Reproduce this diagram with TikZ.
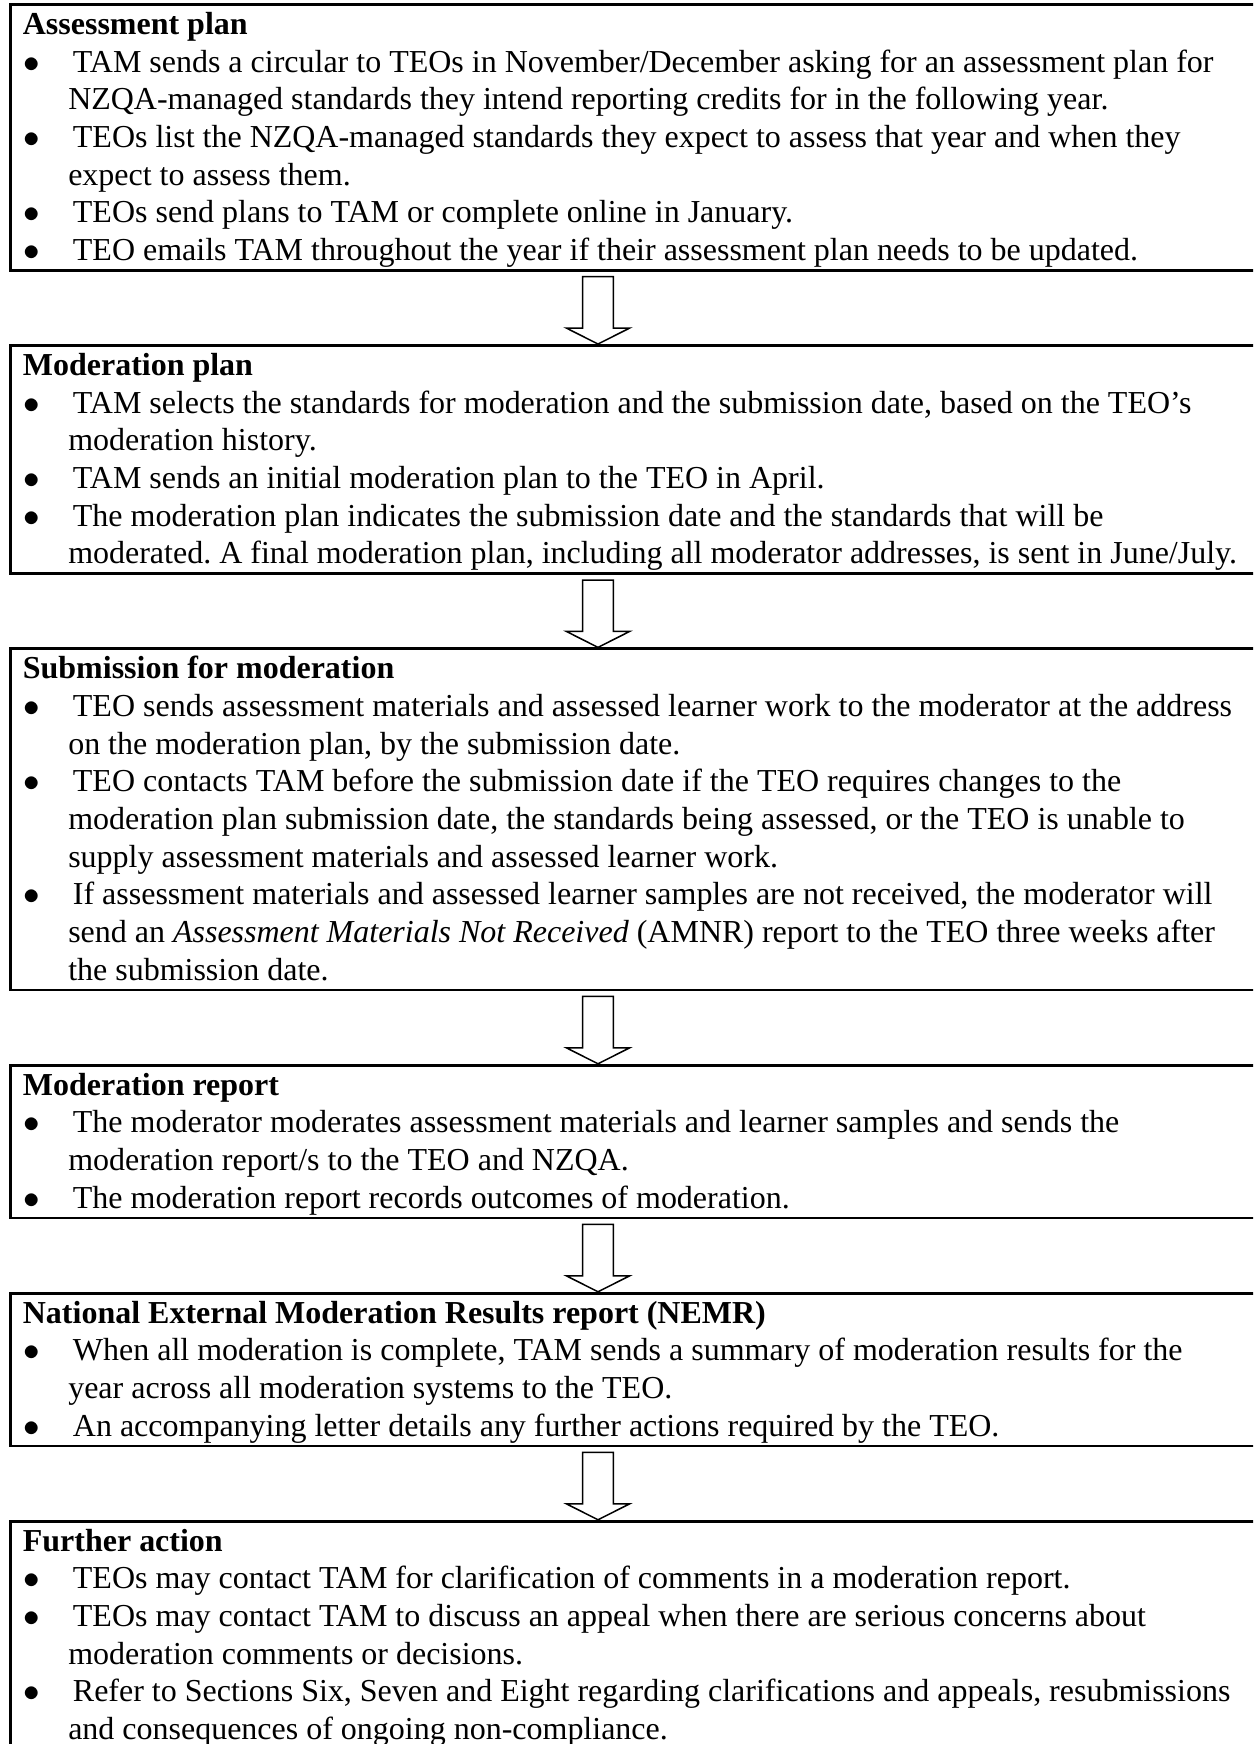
\documentclass[tikz,border=0pt]{standalone}
\usepackage{fontspec}
\setmainfont{Liberation Serif}
\usetikzlibrary{calc}
\usetikzlibrary{positioning}

% line helpers for the stage boxes
\newcommand{\headln}[1]{\rule{0pt}{10.9pt}\textbf{#1}}
\newcommand{\firstln}[1]{\hspace*{0.4pt}\makebox[17.8pt][l]{$\bullet$}#1}
\newcommand{\contln}[1]{\hspace*{16.5pt}#1}
\newcommand{\lastln}{\rule[-3.6pt]{0pt}{3.6pt}}

\tikzset{
  stagebox/.style={draw, line width=1pt, inner xsep=4.55pt, inner ysep=0pt,
    anchor=north west, font=\fontsize{11.63pt}{13.7pt}\selectfont\frenchspacing},
  flowarrow/.style={draw, line width=0.55pt, fill=white}
}

\begin{document}
\begin{tikzpicture}[x=0.3636pt,y=-0.3636pt]
  % Page
  \clip (0,0) rectangle (1253,1744);

  % Stages
  \node[stagebox] (assess) at (9,3) {\parbox[t]{470pt}{%
    \headln{Assessment plan}\\
    \firstln{TAM sends a circular to TEOs in November/December asking for an assessment plan for}\\
    \contln{NZQA-managed standards they intend reporting credits for in the following year.}\\
    \firstln{TEOs list the NZQA-managed standards they expect to assess that year and when they}\\
    \contln{expect to assess them.}\\
    \firstln{TEOs send plans to TAM or complete online in January.}\\
    \firstln{TEO emails TAM throughout the year if their assessment plan needs to be updated.}\lastln}};

  \node[stagebox, below=26.3pt of assess.south west, anchor=north west] (modplan) {\parbox[t]{470pt}{%
    \headln{Moderation plan}\\
    \firstln{TAM selects the standards for moderation and the submission date, based on the TEO’s}\\
    \contln{moderation history.}\\
    \firstln{TAM sends an initial moderation plan to the TEO in April.}\\
    \firstln{The moderation plan indicates the submission date and the standards that will be}\\
    \contln{moderated. A final moderation plan, including all moderator addresses, is sent in June/July.}\lastln}};

  \node[stagebox, below=26.3pt of modplan.south west, anchor=north west] (submit) {\parbox[t]{470pt}{%
    \headln{Submission for moderation}\\
    \firstln{TEO sends assessment materials and assessed learner work to the moderator at the address}\\
    \contln{on the moderation plan, by the submission date.}\\
    \firstln{TEO contacts TAM before the submission date if the TEO requires changes to the}\\
    \contln{moderation plan submission date, the standards being assessed, or the TEO is unable to}\\
    \contln{supply assessment materials and assessed learner work.}\\
    \firstln{If assessment materials and assessed learner samples are not received, the moderator will}\\
    \contln{send an \textit{Assessment Materials Not Received} (AMNR) report to the TEO three weeks after}\\
    \contln{the submission date.}\lastln}};

  \node[stagebox, below=26.3pt of submit.south west, anchor=north west] (modreport) {\parbox[t]{470pt}{%
    \headln{Moderation report}\\
    \firstln{The moderator moderates assessment materials and learner samples and sends the}\\
    \contln{moderation report/s to the TEO and NZQA.}\\
    \firstln{The moderation report records outcomes of moderation.}\lastln}};

  \node[stagebox, below=26.3pt of modreport.south west, anchor=north west] (nemr) {\parbox[t]{470pt}{%
    \headln{National External Moderation Results report (NEMR)}\\
    \firstln{When all moderation is complete, TAM sends a summary of moderation results for the}\\
    \contln{year across all moderation systems to the TEO.}\\
    \firstln{An accompanying letter details any further actions required by the TEO.}\lastln}};

  \node[stagebox, below=26.3pt of nemr.south west, anchor=north west] (further) {\parbox[t]{470pt}{%
    \headln{Further action}\\
    \firstln{TEOs may contact TAM for clarification of comments in a moderation report.}\\
    \firstln{TEOs may contact TAM to discuss an appeal when there are serious concerns about}\\
    \contln{moderation comments or decisions.}\\
    \firstln{Refer to Sections Six, Seven and Eight regarding clarifications and appeals, resubmissions}\\
    \contln{and consequences of ongoing non-compliance.}\lastln}};

  % Block arrows
  \foreach \a/\b in {assess/modplan, modplan/submit, submit/modreport, modreport/nemr, nemr/further}
  {
    \draw[flowarrow] let \p1=($(\a.south west)+(589,5)$), \p2=($(\b.north west)+(589,0)$) in
      (\x1-5.6pt,\y1) -- (\x1+5.6pt,\y1) -- (\x1+5.6pt,\y2+5.8pt) -- (\x1+11.5pt,\y2+5.8pt)
      -- (\x1,\y2) -- (\x1-11.5pt,\y2+5.8pt) -- (\x1-5.6pt,\y2+5.8pt) -- cycle;
  }
\end{tikzpicture}
\end{document}
